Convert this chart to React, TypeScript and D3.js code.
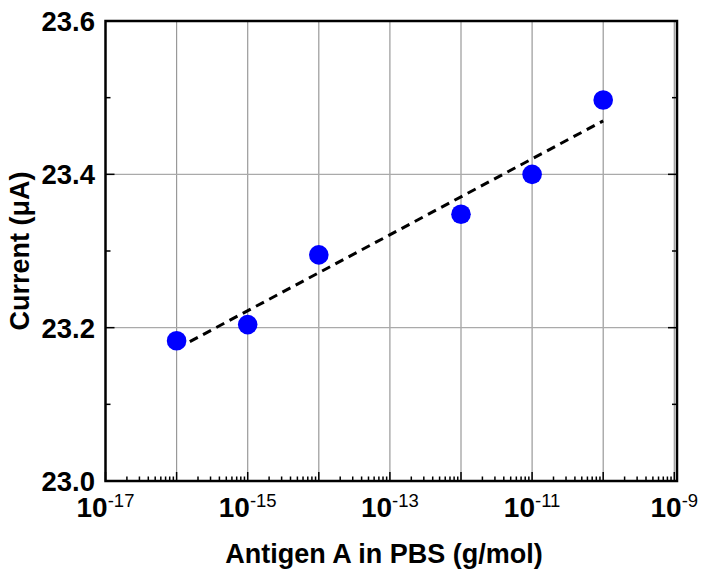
import React from "react";
import * as d3 from "d3";

const concentrations = [1e-16, 1e-15, 1e-14, 1e-12, 1e-11, 1e-10];
const currents = [23.183, 23.204, 23.295, 23.348, 23.4, 23.497];
const xTickExponents = [-17, -15, -13, -11, -9];
const xGridExponents = [-16, -15, -14, -13, -12, -11, -10, -9];
const yTicks = [23.0, 23.2, 23.4, 23.6];
const yMinorTicks = [23.1, 23.3, 23.5];
const yGrid = [23.2, 23.4];

const W = 703;
const H = 576;
const left = 105.5;
const right = 674.3;
const frameRight = 677;
const top = 21;
const bottom = 481;

export default function App() {
  const x = d3.scaleLog().domain([1e-17, 1e-9]).range([left, right]);
  const y = d3.scaleLinear().domain([23.0, 23.6]).range([bottom, top]);

  // linear fit of current vs log10(concentration)
  const lx = concentrations.map((c) => Math.log10(c));
  const mx = d3.mean(lx)!;
  const my = d3.mean(currents)!;
  let sxy = 0, sxx = 0;
  lx.forEach((v, i) => {
    sxy += (v - mx) * (currents[i] - my);
    sxx += (v - mx) * (v - mx);
  });
  const slope = sxy / sxx;
  const icpt = my - slope * mx;
  const fitX = [concentrations[0], concentrations[concentrations.length - 1]];
  const fitLine = d3
    .line<number>()
    .x((c) => x(c))
    .y((c) => y(icpt + slope * Math.log10(c)));

  const minorX: number[] = [];
  for (let e = -17; e < -9; e++) {
    for (let m = 2; m <= 9; m++) minorX.push(m * Math.pow(10, e));
  }
  const majorX: number[] = [];
  for (let e = -17; e <= -9; e++) majorX.push(Math.pow(10, e));

  const font = "'Liberation Sans', Arial, sans-serif";

  return (
    <svg width={W} height={H} style={{ position: "absolute", left: 0, top: 0 }}>
      <rect width={W} height={H} fill="#fff" />
      {/* grid */}
      {xGridExponents.map((e) => (
        <line key={"gx" + e} x1={x(Math.pow(10, e))} x2={x(Math.pow(10, e))} y1={top} y2={bottom} stroke="#999" strokeWidth={1.2} />
      ))}
      {yGrid.map((v) => (
        <line key={"gy" + v} x1={left} x2={frameRight} y1={y(v)} y2={y(v)} stroke="#aaa" strokeWidth={1.2} />
      ))}
      {/* minor x ticks */}
      {minorX.map((v, i) => (
        <line key={"mx" + i} x1={x(v)} x2={x(v)} y1={bottom} y2={bottom - 4.5} stroke="#000" strokeWidth={1.5} />
      ))}
      {majorX.map((v, i) => (
        <line key={"Mx" + i} x1={x(v)} x2={x(v)} y1={bottom} y2={bottom - 9} stroke="#000" strokeWidth={1.5} />
      ))}
      {/* y ticks both sides */}
      {yTicks.map((v) => (
        <g key={"yt" + v}>
          <line x1={left} x2={left + 9} y1={y(v)} y2={y(v)} stroke="#000" strokeWidth={1.5} />
          <line x1={frameRight} x2={frameRight - 9} y1={y(v)} y2={y(v)} stroke="#000" strokeWidth={1.5} />
        </g>
      ))}
      {yMinorTicks.map((v) => (
        <g key={"ym" + v}>
          <line x1={left} x2={left + 5} y1={y(v)} y2={y(v)} stroke="#000" strokeWidth={1.5} />
          <line x1={frameRight} x2={frameRight - 5} y1={y(v)} y2={y(v)} stroke="#000" strokeWidth={1.5} />
        </g>
      ))}
      {/* frame */}
      <rect x={left} y={top} width={frameRight - left} height={bottom - top} fill="none" stroke="#000" strokeWidth={2.5} />
      {/* fit line */}
      <path d={fitLine(fitX)!} fill="none" stroke="#000" strokeWidth={3} strokeDasharray="9,6" />
      {/* points */}
      {concentrations.map((c, i) => (
        <circle key={"p" + i} cx={x(c)} cy={y(currents[i])} r={9.8} fill="#0000ff" />
      ))}
      {/* y tick labels */}
      {yTicks.map((v) => (
        <text key={"yl" + v} x={95} y={y(v)} dy="0.36em" textAnchor="end" fontFamily={font} fontWeight="bold" fontSize={27.5}>
          {v.toFixed(1)}
        </text>
      ))}
      {/* x tick labels */}
      {xTickExponents.map((e) => (
        <text key={"xl" + e} x={x(Math.pow(10, e))} y={517} textAnchor="middle" fontFamily={font} fontWeight="bold" fontSize={28}>
          10
          <tspan dy={-10} fontSize={18.5} fontWeight="normal">{String(e)}</tspan>
        </text>
      ))}
      {/* axis titles */}
      <text x={384} y={563} textAnchor="middle" fontFamily={font} fontWeight="bold" fontSize={27}>
        Antigen A in PBS (g/mol)
      </text>
      <text transform={`translate(29, ${(top + bottom) / 2}) rotate(-90)`} textAnchor="middle" fontFamily={font} fontWeight="bold" fontSize={27}>
        Current (μA)
      </text>
    </svg>
  );
}
